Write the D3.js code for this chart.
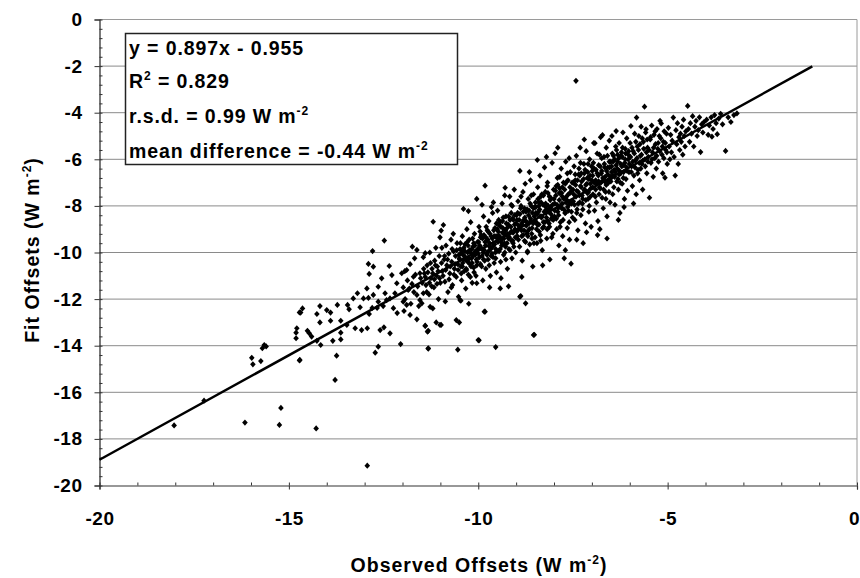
<!DOCTYPE html>
<html>
<head>
<meta charset="utf-8">
<script src="https://cdn.jsdelivr.net/npm/d3@7"></script>
<style>
  body { margin: 0; background: #fff; }
  text { font-family: "Liberation Sans", Arial, sans-serif; font-weight: bold; fill: #000; }
</style>
</head>
<body>
<div id="chart"></div>
<script>
// regression fit shown in the box
var slope = 0.897, intercept = -0.955;
var fitLineRange = [-20, -1.18];

var xTicks = [-20, -15, -10, -5, 0];
var yTicks = [0, -2, -4, -6, -8, -10, -12, -14, -16, -18, -20];

var statLines = [
  [{t: "y = 0.897x - 0.955"}],
  [{t: "R"}, {t: "2", sup: true}, {t: " = 0.829"}],
  [{t: "r.s.d. = 0.99 W m"}, {t: "-2", sup: true}],
  [{t: "mean difference = -0.44 W m"}, {t: "-2", sup: true}]
];

// [observed, fit] pairs
var outlierPoints = [
  [-18.03,-17.42],[-17.24,-16.36],[-16.16,-17.3],[-15.21,-16.67],[-15.25,-17.4],[-14.28,-17.55],[-12.93,-19.15],
  [-7.42,-2.63],[-13.78,-15.47]
];

var sparsePoints = [
  [-15.65,-13.97],[-15.7,-14.11],[-15.6,-14.03],[-15.98,-14.52],[-15.95,-14.8],[-15.74,-14.66],
  [-14.72,-12.57],[-14.79,-13.25],[-14.81,-13.44],[-14.81,-13.68],[-14.72,-14.63],
  [-14.64,-12.4],[-14.69,-12.58],[-14.18,-12.3],[-14.26,-12.64],[-13.72,-12.25],
  [-14.18,-13.0],[-13.47,-13.11],[-14.51,-13.36],[-14.46,-13.47],[-14.4,-13.61],[-13.63,-13.44],[-13.25,-13.25],
  [-13.08,-13.33],[-12.93,-13.25],[-12.59,-13.33],[-12.49,-13.21],[-12.33,-13.47],
  [-14.26,-13.79],[-14.16,-13.97],[-13.84,-13.79],[-13.63,-13.73],[-12.05,-13.93],[-11.4,-13.15],[-11.32,-13.36],
  [-12.64,-14.04],[-12.72,-14.3],[-13.74,-14.43],[-14.71,-14.61],[-11.32,-14.11],
  [-14.0,-12.47],[-13.9,-12.58],[-13.45,-12.25],[-13.41,-12.44],[-13.12,-12.35],[-12.88,-12.64],[-12.8,-12.38],
  [-12.67,-12.38],[-12.51,-12.3],[-12.24,-12.39],[-12.14,-12.6],[-11.96,-12.51],[-11.89,-12.25],[-11.62,-12.87],
  [-13.9,-12.93],[-13.63,-12.93],
  [-13.3,-11.97],[-13.03,-11.97],[-12.9,-11.95],[-12.64,-12.11],[-12.33,-11.97],[-11.98,-12.11],[-11.54,-12.04],[-11.27,-12.33],
  [-13.19,-11.75],[-12.77,-11.82],[-12.46,-11.75],[-12.2,-11.75],[-11.85,-11.61],[-11.62,-11.82],
  [-12.94,-11.54],[-12.64,-11.47],
  [-12.15,-11.32],[-12.55,-11.11],[-12.28,-10.97],[-12.02,-10.89],[-11.89,-10.75],[-11.71,-11.04],[-11.54,-10.89],
  [-12.9,-10.49],[-12.77,-10.61],[-12.88,-10.92],[-12.35,-10.58],
  [-12.79,-9.94],[-12.48,-9.49],[-11.74,-9.75],[-11.62,-9.89],[-11.4,-10.03],
  [-11.49,-12.18],[-11.2,-12.4],[-10.46,-12.07],[-9.84,-12.54],[-8.75,-12.18],[-11.4,-13.14],[-11.34,-13.4],
  [-11.11,-13.0],[-10.98,-13.11],[-10.58,-12.9],[-10.5,-13.0],[-8.52,-13.53],[-9.98,-13.77],[-11.32,-14.13],
  [-10.54,-14.17],[-9.54,-14.06],[-8.88,-11.87],[-7.73,-10.25],[-7.55,-10.48],[-7.14,-9.13],[-6.79,-9.0],
  [-11.8,-12.68],[-11.01,-13.11],[-11.45,-11.75],[-12.42,-12.04],[-10.48,-12.04],[-10.04,-11.32],[-9.42,-11.54],
  [-9.82,-12.54],[-10.0,-13.76],[-8.9,-11.9],[-8.54,-13.54]
];

var bandPoints = [
  // -11.5 .. -11.0
  [-11.45,-10.2],[-11.42,-10.9],[-11.38,-11.4],[-11.35,-10.55],[-11.3,-11.8],[-11.28,-10.0],[-11.25,-11.1],[-11.22,-10.7],
  [-11.19,-8.68],[-11.17,-11.5],[-11.15,-10.35],[-11.12,-9.8],[-11.1,-11.0],[-11.08,-10.6],[-11.05,-12.0],[-11.03,-10.15],
  [-11.01,-9.35],[-11.0,-11.3],
  // -11.0 .. -10.5
  [-10.98,-9.06],[-10.95,-10.8],[-10.92,-8.82],[-10.9,-10.3],[-10.88,-11.25],[-10.85,-9.7],[-10.83,-10.55],[-10.8,-11.7],
  [-10.78,-10.05],[-10.75,-10.9],[-10.72,-9.45],[-10.7,-10.4],[-10.68,-11.4],[-10.65,-9.95],[-10.63,-10.7],[-10.6,-10.15],
  [-10.58,-11.05],[-10.56,-9.6],[-10.54,-10.5],[-10.52,-11.9],[-10.5,-10.25],[-10.87,-12.1],[-10.66,-9.2],
  // -10.5 .. -10.0
  [-10.48,-9.85],[-10.46,-10.6],[-10.44,-11.2],[-10.42,-9.3],[-10.4,-10.1],[-10.39,-8.13],[-10.37,-10.8],[-10.35,-9.65],
  [-10.33,-11.55],[-10.31,-10.35],[-10.3,-9.0],[-10.28,-10.0],[-10.26,-10.95],[-10.24,-9.45],[-10.22,-10.5],[-10.2,-8.7],
  [-10.18,-10.25],[-10.16,-11.3],[-10.14,-9.75],[-10.12,-10.65],[-10.1,-9.2],[-10.08,-9.95],[-10.06,-11.0],[-10.04,-7.7],
  [-10.03,-10.4],[-10.02,-9.55],[-10.0,-10.05],[-10.26,-8.22],[-10.25,-12.2],
  // -10.0 .. -9.5
  [-9.98,-8.9],[-9.96,-9.7],[-9.94,-10.5],[-9.92,-9.25],[-9.9,-10.15],[-9.88,-11.2],[-9.86,-8.45],[-9.84,-9.9],
  [-9.82,-7.13],[-9.8,-10.7],[-9.78,-9.5],[-9.76,-9.05],[-9.74,-10.3],[-9.72,-8.65],[-9.7,-9.75],[-9.68,-11.0],
  [-9.66,-9.3],[-9.64,-10.05],[-9.62,-8.3],[-9.6,-9.6],[-9.58,-10.45],[-9.56,-8.95],[-9.54,-9.85],[-9.52,-10.85],
  [-9.5,-9.4],[-9.9,-7.95],[-9.7,-11.5],[-9.6,-7.85],[-9.8,-9.35],[-9.65,-8.05],
  // -9.5 .. -9.0
  [-9.49,-8.2],[-9.47,-9.1],[-9.45,-9.95],[-9.43,-8.7],[-9.41,-10.4],[-9.39,-9.45],[-9.37,-7.9],[-9.35,-8.95],
  [-9.33,-10.1],[-9.31,-9.6],[-9.29,-7.22],[-9.27,-8.45],[-9.25,-9.25],[-9.23,-10.7],[-9.21,-8.8],[-9.19,-9.85],
  [-9.17,-7.6],[-9.15,-9.15],[-9.13,-8.3],[-9.11,-10.25],[-9.09,-9.5],[-9.07,-8.6],[-9.05,-7.3],[-9.03,-9.0],
  [-9.01,-10.0],[-9.4,-11.1],[-9.2,-11.45],[-9.3,-7.55],[-9.1,-8.0],
  // -9.0 .. -8.5
  [-8.99,-8.4],[-8.97,-9.3],[-8.95,-7.8],[-8.93,-8.85],[-8.91,-9.75],[-8.9,-6.5],[-8.88,-8.1],[-8.86,-9.05],
  [-8.84,-10.35],[-8.82,-7.4],[-8.8,-8.6],[-8.78,-9.5],[-8.76,-7.05],[-8.74,-8.25],[-8.72,-9.2],[-8.7,-10.0],
  [-8.68,-7.7],[-8.66,-8.75],[-8.64,-9.65],[-8.62,-6.9],[-8.6,-8.0],[-8.58,-8.95],[-8.56,-10.6],[-8.54,-7.5],
  [-8.52,-8.45],[-8.5,-9.35],[-8.44,-6.03],[-8.85,-11.05],[-8.65,-6.55],[-8.7,-9.95],
  // -8.5 .. -8.0
  [-8.49,-7.85],[-8.47,-8.7],[-8.45,-9.6],[-8.43,-7.2],[-8.41,-8.25],[-8.39,-9.1],[-8.37,-6.7],[-8.35,-7.6],
  [-8.33,-8.5],[-8.31,-9.9],[-8.29,-7.95],[-8.27,-8.9],[-8.25,-6.35],[-8.23,-7.4],[-8.21,-8.3],[-8.19,-9.4],
  [-8.17,-7.0],[-8.15,-8.0],[-8.13,-8.75],[-8.11,-10.3],[-8.09,-7.65],[-8.07,-8.55],[-8.05,-6.15],[-8.03,-9.2],
  [-8.01,-7.3],[-8.3,-10.55],[-8.2,-5.9],[-8.4,-8.0],[-8.1,-8.1],
  // -8.0 .. -7.5
  [-7.99,-8.45],[-7.97,-5.74],[-7.95,-7.55],[-7.93,-9.0],[-7.91,-6.8],[-7.89,-8.1],[-7.87,-9.7],[-7.85,-7.25],
  [-7.83,-8.7],[-7.81,-6.4],[-7.79,-7.9],[-7.77,-9.3],[-7.75,-7.0],[-7.71,-8.3],[-7.69,-6.1],[-7.67,-7.6],
  [-7.65,-8.95],[-7.63,-6.9],[-7.61,-7.95],[-7.59,-9.45],[-7.57,-6.55],[-7.53,-7.35],[-7.51,-8.5],
  [-7.9,-5.5],[-7.7,-9.9],[-7.6,-5.95],[-7.8,-7.45],
  // -7.5 .. -7.0
  [-7.49,-7.8],[-7.47,-6.3],[-7.45,-8.6],[-7.43,-7.1],[-7.41,-5.85],[-7.39,-8.15],[-7.37,-9.05],[-7.35,-6.65],
  [-7.33,-7.55],[-7.31,-5.5],[-7.29,-8.4],[-7.27,-6.95],[-7.25,-7.9],[-7.23,-9.6],[-7.21,-6.2],[-7.19,-7.3],
  [-7.17,-8.75],[-7.15,-5.65],[-7.12,-6.8],[-7.1,-7.7],[-7.08,-8.25],[-7.06,-6.0],[-7.04,-7.05],[-7.02,-8.9],
  [-7.2,-5.15],[-7.4,-9.45],
  // -7.0 .. -6.5
  [-6.99,-6.5],[-6.97,-7.5],[-6.95,-5.3],[-6.93,-8.2],[-6.92,-5.31],[-6.9,-6.9],[-6.88,-7.85],[-6.86,-5.75],
  [-6.84,-8.65],[-6.82,-6.25],[-6.8,-7.2],[-6.77,-5.05],[-6.75,-6.6],[-6.73,-7.65],[-6.72,-4.96],[-6.7,-8.1],
  [-6.68,-5.9],[-6.66,-6.95],[-6.64,-7.4],[-6.62,-5.5],[-6.6,-8.45],[-6.58,-6.35],[-6.56,-7.0],[-6.54,-5.2],
  [-6.52,-7.85],[-6.5,-6.1],[-6.85,-9.25],[-6.6,-9.4],
  // -6.5 .. -6.0
  [-6.49,-6.8],[-6.47,-5.0],[-6.45,-7.5],[-6.43,-5.85],[-6.41,-6.45],[-6.39,-7.95],[-6.37,-5.45],[-6.36,-4.79],
  [-6.34,-6.95],[-6.32,-6.1],[-6.3,-7.3],[-6.28,-5.3],[-6.26,-8.3],[-6.24,-6.6],[-6.22,-5.7],[-6.2,-7.05],
  [-6.18,-4.85],[-6.16,-6.25],[-6.14,-7.7],[-6.12,-5.55],[-6.1,-6.85],[-6.08,-5.1],[-6.06,-7.35],[-6.04,-6.0],
  [-6.02,-6.55],[-6.3,-8.6],[-6.15,-8.05],
  // -6.0 .. -5.5
  [-5.99,-5.3],[-5.97,-4.57],[-5.95,-6.3],[-5.93,-7.15],[-5.91,-5.65],[-5.89,-6.7],[-5.87,-4.9],[-5.85,-6.05],
  [-5.83,-7.5],[-5.82,-4.21],[-5.8,-5.45],[-5.78,-6.45],[-5.76,-5.0],[-5.74,-6.9],[-5.72,-5.85],[-5.7,-4.6],
  [-5.68,-6.2],[-5.66,-7.3],[-5.64,-5.25],[-5.61,-3.74],[-5.6,-6.0],[-5.58,-4.85],[-5.57,-4.71],[-5.55,-6.6],
  [-5.53,-5.5],[-5.51,-5.9],[-5.9,-7.9],
  // -5.5 .. -5.0
  [-5.48,-7.65],[-5.46,-5.15],[-5.44,-6.15],[-5.42,-4.55],[-5.4,-5.7],[-5.38,-6.75],[-5.36,-4.95],[-5.34,-5.95],
  [-5.32,-5.35],[-5.3,-6.4],[-5.28,-4.7],[-5.26,-5.55],[-5.24,-6.1],[-5.22,-5.0],[-5.2,-4.35],[-5.17,-4.46],
  [-5.15,-5.8],[-5.13,-6.6],[-5.11,-5.25],[-5.09,-4.8],[-5.07,-6.79],[-5.05,-5.6],[-5.03,-4.9],[-5.01,-6.2],
  // -5.0 .. -4.5
  [-4.98,-4.65],[-4.96,-5.45],[-4.94,-6.0],[-4.92,-4.95],[-4.9,-5.7],[-4.88,-5.2],[-4.85,-4.21],[-4.83,-5.9],
  [-4.8,-6.7],[-4.78,-4.75],[-4.76,-5.35],[-4.74,-4.45],[-4.72,-6.2],[-4.7,-5.05],[-4.68,-5.6],[-4.66,-4.9],
  [-4.64,-5.25],[-4.62,-4.6],[-4.6,-5.8],[-4.58,-4.3],[-4.56,-5.0],[-4.54,-5.45],[-4.52,-4.8],
  // -4.5 .. -3.0
  [-4.47,-3.71],[-4.45,-4.7],[-4.42,-5.25],[-4.4,-4.45],[-4.37,-4.9],[-4.34,-4.15],[-4.31,-5.45],[-4.28,-4.6],
  [-4.25,-4.35],[-4.22,-5.0],[-4.19,-4.75],[-4.16,-4.2],[-4.13,-5.69],[-4.1,-4.5],[-4.07,-4.85],[-4.04,-4.4],
  [-3.97,-4.3],[-3.93,-4.95],[-3.9,-4.55],[-3.85,-4.2],[-3.83,-5.03],[-3.8,-4.7],[-3.76,-4.1],[-3.72,-4.45],
  [-3.69,-4.92],[-3.65,-4.25],[-3.6,-4.05],[-3.55,-4.5],[-3.47,-5.64],[-3.4,-4.2],[-3.33,-4.4],[-3.25,-4.1],[-3.17,-4.03]
];

// extra points filling the dark core of the cloud
var corePoints = [
  [-11.98,-11.5],[-11.93,-12.0],[-11.87,-11.2],[-11.82,-11.55],[-11.78,-12.2],[-11.75,-11.35],[-11.7,-11.7],
  [-11.66,-10.95],[-11.6,-11.45],[-11.57,-12.3],[-11.52,-11.1],[-11.94,-10.8],[-11.8,-10.5],[-11.68,-10.25],
  [-11.48,-11.3],[-11.44,-10.7],[-11.4,-11.05],[-11.36,-11.7],[-11.33,-10.85],[-11.29,-11.3],[-11.26,-10.45],
  [-11.23,-11.45],[-11.2,-10.9],[-11.16,-11.15],[-11.13,-10.55],[-11.09,-11.35],[-11.06,-10.8],[-11.02,-11.1],
  [-10.97,-10.45],[-10.93,-11.0],[-10.89,-10.15],[-10.86,-10.75],[-10.81,-10.3],[-10.77,-11.15],[-10.74,-10.6],
  [-10.69,-9.85],[-10.64,-10.95],[-10.61,-10.5],[-10.57,-9.9],[-10.53,-10.75],[-10.51,-10.1],[-10.96,-9.8],[-10.71,-11.5],
  [-10.49,-10.3],[-10.47,-9.6],[-10.45,-10.9],[-10.41,-10.45],[-10.38,-9.8],[-10.34,-10.2],[-10.32,-10.7],[-10.29,-9.55],
  [-10.27,-10.4],[-10.23,-9.9],[-10.21,-11.05],[-10.19,-10.6],[-10.15,-9.4],[-10.13,-10.15],[-10.11,-10.85],
  [-10.09,-9.7],[-10.05,-10.3],[-10.01,-9.85],[-10.43,-9.95],[-10.17,-9.85],
  [-9.99,-9.55],[-9.97,-10.2],[-9.95,-9.1],[-9.93,-9.8],[-9.91,-10.6],[-9.89,-9.4],[-9.87,-10.0],[-9.85,-9.25],
  [-9.83,-10.35],[-9.81,-9.7],[-9.79,-8.9],[-9.77,-10.1],[-9.75,-9.45],[-9.73,-9.95],[-9.71,-10.55],[-9.69,-9.2],
  [-9.67,-9.85],[-9.63,-9.4],[-9.61,-10.2],[-9.59,-9.05],[-9.57,-9.65],[-9.55,-10.0],[-9.53,-9.3],[-9.51,-9.95],
  [-9.5,-9.0],[-9.48,-9.55],[-9.46,-8.6],[-9.44,-9.3],[-9.42,-9.85],[-9.4,-8.9],[-9.38,-9.7],[-9.36,-9.15],
  [-9.34,-8.5],[-9.32,-9.4],[-9.3,-10.0],[-9.28,-9.05],[-9.26,-8.75],[-9.24,-9.6],[-9.22,-9.2],[-9.2,-8.45],
  [-9.18,-9.35],[-9.16,-9.9],[-9.14,-8.9],[-9.12,-9.5],[-9.1,-8.55],[-9.08,-9.15],[-9.06,-9.75],[-9.04,-8.8],[-9.02,-9.35],
  [-9.0,-8.75],[-8.98,-9.1],[-8.96,-8.3],[-8.94,-9.45],[-8.92,-8.6],[-8.89,-8.95],[-8.87,-8.0],[-8.85,-9.3],
  [-8.83,-8.7],[-8.81,-8.25],[-8.79,-9.05],[-8.77,-8.5],[-8.75,-9.55],[-8.73,-8.85],[-8.71,-8.15],[-8.69,-9.3],
  [-8.67,-8.4],[-8.65,-9.0],[-8.63,-7.9],[-8.61,-8.65],[-8.59,-9.2],[-8.57,-8.3],[-8.55,-8.75],[-8.53,-9.6],[-8.51,-8.05],
  [-8.5,-8.6],[-8.48,-8.05],[-8.46,-9.0],[-8.44,-8.35],[-8.42,-7.7],[-8.4,-8.8],[-8.38,-8.15],[-8.36,-9.25],
  [-8.34,-7.85],[-8.32,-8.45],[-8.3,-8.95],[-8.28,-7.55],[-8.26,-8.25],[-8.24,-8.7],[-8.22,-7.9],[-8.2,-8.5],
  [-8.18,-9.0],[-8.16,-7.45],[-8.14,-8.25],[-8.12,-8.9],[-8.1,-7.75],[-8.08,-8.35],[-8.06,-9.35],[-8.04,-7.95],[-8.02,-8.6],
  [-8.0,-7.7],[-7.98,-8.2],[-7.96,-7.35],[-7.94,-8.55],[-7.92,-7.95],[-7.9,-7.1],[-7.88,-8.4],[-7.86,-7.75],
  [-7.84,-8.9],[-7.82,-7.45],[-7.8,-8.1],[-7.78,-7.2],[-7.76,-8.6],[-7.74,-7.7],[-7.72,-7.3],[-7.7,-8.3],
  [-7.68,-7.85],[-7.66,-6.95],[-7.64,-8.05],[-7.62,-7.5],[-7.6,-8.7],[-7.58,-7.2],[-7.56,-7.85],[-7.54,-8.25],[-7.52,-7.0],
  [-7.5,-7.3],[-7.48,-7.0],[-7.46,-7.95],[-7.44,-6.65],[-7.42,-7.6],[-7.4,-8.3],[-7.38,-6.9],[-7.36,-7.4],
  [-7.34,-6.4],[-7.32,-7.85],[-7.3,-7.15],[-7.28,-6.6],[-7.26,-7.55],[-7.24,-8.15],[-7.22,-6.85],[-7.2,-7.35],
  [-7.18,-6.45],[-7.16,-7.75],[-7.13,-7.05],[-7.11,-6.55],[-7.09,-7.4],[-7.07,-8.0],[-7.05,-6.7],[-7.03,-7.25],[-7.01,-6.3],
  [-7.0,-6.9],[-6.98,-7.2],[-6.96,-6.15],[-6.94,-7.0],[-6.91,-7.6],[-6.89,-6.45],[-6.87,-7.05],[-6.83,-6.7],
  [-6.81,-7.5],[-6.78,-6.3],[-6.76,-7.0],[-6.74,-5.95],[-6.71,-6.8],[-6.69,-7.3],[-6.67,-6.2],[-6.65,-6.75],
  [-6.63,-7.7],[-6.61,-6.5],[-6.59,-5.85],[-6.57,-6.9],[-6.55,-7.4],[-6.53,-6.35],[-6.51,-6.75],
  [-6.5,-6.95],[-6.48,-6.3],[-6.46,-5.75],[-6.44,-6.7],[-6.42,-7.2],[-6.4,-6.0],[-6.38,-6.55],[-6.35,-5.6],
  [-6.33,-6.4],[-6.31,-6.85],[-6.29,-5.95],[-6.27,-6.5],[-6.25,-7.0],[-6.23,-5.85],[-6.21,-6.3],[-6.19,-5.5],
  [-6.17,-6.8],[-6.13,-6.15],[-6.11,-5.75],[-6.07,-6.5],[-6.03,-5.65],[-6.01,-6.2],
  [-5.98,-5.9],[-5.96,-6.55],[-5.94,-5.5],[-5.92,-6.1],[-5.88,-5.75],[-5.86,-6.35],[-5.84,-5.25],[-5.81,-5.95],
  [-5.79,-6.6],[-5.77,-5.6],[-5.75,-6.15],[-5.73,-5.35],[-5.71,-6.4],[-5.69,-5.8],[-5.67,-5.1],[-5.65,-6.05],
  [-5.63,-5.55],[-5.59,-6.3],[-5.56,-5.7],[-5.54,-5.15],[-5.52,-6.1],
  [-5.49,-5.6],[-5.45,-5.05],[-5.41,-6.0],[-5.37,-5.5],[-5.33,-4.8],[-5.29,-5.85],[-5.25,-5.3],[-5.21,-5.65],
  [-5.18,-5.1],[-5.14,-5.45],[-5.1,-5.95],[-5.06,-5.3],[-5.02,-5.7]
];

// the darkest part of the cloud, close to the fit line
var densePoints = [
  [-10.46,-10.05],[-10.42,-10.6],[-10.38,-10.3],[-10.35,-9.95],[-10.31,-10.75],[-10.27,-9.7],[-10.24,-10.25],
  [-10.2,-10.0],[-10.16,-10.45],[-10.12,-9.6],[-10.08,-10.1],[-10.04,-10.55],
  [-9.98,-9.8],[-9.94,-9.35],[-9.9,-9.85],[-9.86,-10.3],[-9.82,-9.55],[-9.78,-10.05],[-9.74,-9.1],[-9.7,-9.6],
  [-9.66,-10.15],[-9.62,-9.75],[-9.58,-9.3],[-9.54,-10.25],[-9.52,-8.75],
  [-9.48,-9.3],[-9.44,-8.85],[-9.4,-9.55],[-9.36,-8.65],[-9.32,-9.2],[-9.28,-9.75],[-9.24,-8.95],[-9.2,-9.4],
  [-9.16,-8.6],[-9.12,-9.1],[-9.08,-9.6],[-9.04,-8.4],[-9.27,-10.3],[-9.13,-7.95],
  [-8.98,-8.6],[-8.94,-9.0],[-8.9,-8.35],[-8.86,-8.8],[-8.82,-9.25],[-8.78,-8.1],[-8.74,-8.65],[-8.7,-9.1],
  [-8.66,-8.2],[-8.62,-8.55],[-8.58,-9.4],[-8.54,-8.1],[-8.87,-7.6],[-8.6,-7.55],
  [-8.48,-8.3],[-8.44,-8.8],[-8.4,-7.85],[-8.36,-8.45],[-8.32,-7.5],[-8.28,-8.7],[-8.24,-8.0],[-8.2,-8.15],
  [-8.16,-8.65],[-8.12,-7.6],[-8.08,-8.05],[-8.04,-8.5],[-8.35,-9.5],[-8.18,-7.15],
  [-7.98,-7.9],[-7.94,-7.15],[-7.9,-8.25],[-7.86,-7.45],[-7.82,-8.0],[-7.78,-7.6],[-7.74,-8.15],[-7.7,-7.05],
  [-7.66,-7.75],[-7.62,-8.2],[-7.58,-7.45],[-7.54,-7.9],[-7.85,-6.75],[-7.65,-6.6],
  [-7.48,-7.5],[-7.44,-6.9],[-7.4,-7.35],[-7.36,-7.9],[-7.32,-6.7],[-7.28,-7.2],[-7.24,-7.7],[-7.2,-6.6],
  [-7.16,-7.1],[-7.12,-7.45],[-7.08,-6.85],[-7.04,-7.6],[-7.3,-6.15],[-7.1,-6.2],
  [-6.98,-6.7],[-6.94,-6.4],[-6.9,-7.3],[-6.86,-6.6],[-6.82,-6.95],[-6.78,-7.25],[-6.74,-6.5],[-6.7,-6.9],
  [-6.66,-6.35],[-6.62,-7.1],[-6.58,-6.65],[-6.54,-6.1],[-6.8,-5.8],
  [-6.48,-6.55],[-6.44,-6.1],[-6.4,-6.75],[-6.36,-6.25],[-6.32,-5.8],[-6.28,-6.65],[-6.24,-6.2],[-6.2,-5.9],
  [-6.16,-6.55],[-6.12,-6.0],[-6.08,-6.35],[-6.04,-5.8]
];

var allPoints = outlierPoints.concat(sparsePoints, bandPoints, corePoints, densePoints);

var width = 860, height = 578;
var svg = d3.select("#chart").append("svg")
  .attr("width", width)
  .attr("height", height);

var x = d3.scaleLinear().domain([-20, 0]).range([99.5, 857]);
var y = d3.scaleLinear().domain([0, -20]).range([19.5, 485.5]);

// horizontal gridlines
svg.append("g")
  .selectAll("line")
  .data(yTicks.slice(1, -1))
  .enter().append("line")
  .attr("x1", x(-20)).attr("x2", x(0))
  .attr("y1", d => y(d)).attr("y2", d => y(d))
  .attr("stroke", "#8a8a8a")
  .attr("stroke-width", 1);

// top and right border
svg.append("path")
  .attr("d", "M" + x(-20) + "," + y(0) + "H" + x(0) + "V" + y(-20))
  .attr("fill", "none")
  .attr("stroke", "#9a9a9a")
  .attr("stroke-width", 1);

var plainNum = d => String(d);

// y axis, major + minor ticks
var yAxis = svg.append("g")
  .attr("transform", "translate(" + x(-20) + ",0)")
  .call(d3.axisLeft(y).tickValues(yTicks).tickSize(5).tickPadding(12).tickFormat(plainNum));
svg.append("g")
  .attr("transform", "translate(" + x(-20) + ",0)")
  .call(d3.axisLeft(y).tickValues(d3.range(0, -20.01, -0.4)).tickSize(-3).tickFormat(""))
  .select(".domain").remove();

// x axis, major + minor ticks
var xAxis = svg.append("g")
  .attr("transform", "translate(0," + y(-20) + ")")
  .call(d3.axisBottom(x).tickValues(xTicks).tickSize(4).tickPadding(22).tickFormat(plainNum));
svg.append("g")
  .attr("transform", "translate(0," + y(-20) + ")")
  .call(d3.axisBottom(x).tickValues(d3.range(-20, 0.01, 1)).tickSize(-3).tickFormat(""))
  .select(".domain").remove();

[xAxis, yAxis].forEach(function(a) {
  a.attr("font-family", "'Liberation Sans', Arial, sans-serif")
   .attr("font-weight", "bold")
   .attr("font-size", 19);
});
svg.selectAll(".domain").attr("stroke", "#222").attr("stroke-width", 1.2);
svg.selectAll(".tick line").attr("stroke", "#333");
svg.selectAll(".tick text")
  .style("font-size", "19px")
  .style("font-weight", "700")
  .style("letter-spacing", "0.5px")
  .attr("fill", "#000");
// the "0" at the right edge sits a little left so it stays in view
xAxis.selectAll(".tick text").filter(d => d === 0).attr("dx", -3);
xAxis.select(".domain").attr("stroke", "#333");

// points
var diamond = "M0,-3.1L2.8,0L0,3.1L-2.8,0Z";
svg.append("g")
  .selectAll("path")
  .data(allPoints)
  .enter().append("path")
  .attr("d", diamond)
  .attr("transform", d => "translate(" + x(d[0]) + "," + y(d[1]) + ")")
  .attr("fill", "#000");

// regression line
svg.append("line")
  .attr("x1", x(fitLineRange[0])).attr("y1", y(slope * fitLineRange[0] + intercept))
  .attr("x2", x(fitLineRange[1])).attr("y2", y(slope * fitLineRange[1] + intercept))
  .attr("stroke", "#000")
  .attr("stroke-width", 2.5);

// stats box
svg.append("rect")
  .attr("x", 125.5).attr("y", 33.5)
  .attr("width", 332).attr("height", 131)
  .attr("fill", "#fff")
  .attr("stroke", "#222")
  .attr("stroke-width", 1.5);

var baselines = [55, 88, 123, 158];
statLines.forEach(function(parts, i) {
  var t = svg.append("text")
    .attr("x", 129).attr("y", baselines[i])
    .style("font-size", "19.5px")
    .style("letter-spacing", "0.9px");
  var raised = false;
  parts.forEach(function(p) {
    var s = t.append("tspan").text(p.t);
    if (p.sup) { s.attr("dy", -8).style("font-size", "12px"); raised = true; }
    else if (raised) { s.attr("dy", 8); raised = false; }
  });
});

// axis titles
var xTitle = svg.append("text")
  .attr("x", 479).attr("y", 572)
  .attr("text-anchor", "middle")
  .style("font-size", "19.5px")
  .style("letter-spacing", "1px");
xTitle.append("tspan").text("Observed Offsets  (W m");
xTitle.append("tspan").attr("dy", -8).style("font-size", "12px").text("-2");
xTitle.append("tspan").attr("dy", 8).text(")");

var yTitle = svg.append("text")
  .attr("transform", "translate(39,250) rotate(-90)")
  .attr("text-anchor", "middle")
  .style("font-size", "19.5px")
  .style("letter-spacing", "1px");
yTitle.append("tspan").text("Fit Offsets (W m");
yTitle.append("tspan").attr("dy", -8).style("font-size", "12px").text("-2");
yTitle.append("tspan").attr("dy", 8).text(")");
</script>
</body>
</html>
